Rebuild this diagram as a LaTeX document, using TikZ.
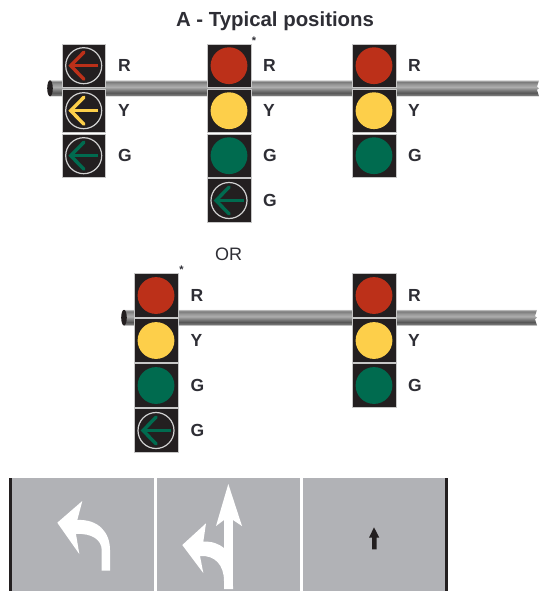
\documentclass[tikz,border=0pt]{standalone}
\usepackage{fontspec}
\setmainfont{Liberation Sans}
\definecolor{sred}{HTML}{BC3019}
\definecolor{syel}{HTML}{FDCF4A}
\definecolor{sgrn}{HTML}{006B4F}
\definecolor{sbox}{HTML}{231F20}
\definecolor{road}{HTML}{B1B2B6}
\definecolor{lab}{HTML}{2E2E35}
\pgfdeclareverticalshading{polesh}{100bp}{
  color(0bp)=(black!25); color(25bp)=(black!25); color(28bp)=(black!52);
  color(36bp)=(black!66); color(44bp)=(black!52); color(54bp)=(black!32);
  color(62bp)=(black!40); color(70bp)=(black!52); color(75bp)=(black!25); color(100bp)=(black!25)}
\tikzset{
  x=1pt,y=-1pt,
  cell/.style={fill=sbox,draw=white!78!black,line width=.5pt},
  siglabel/.style={font=\bfseries\fontsize{17.5}{19}\selectfont,text=lab,anchor=west,inner sep=0pt},
  roadarrow/.style={fill=white,draw=none},
}
% \lampcell{cx}{cy}{colour}
\newcommand{\lampcell}[3]{%
  \draw[cell] (#1-21.9,#2-21.9) rectangle (#1+21.9,#2+21.9);
  \fill[#3] (#1,#2) circle (18.4);
}
% \arrowcell{cx}{cy}{colour}
\newcommand{\arrowcell}[3]{%
  \draw[cell] (#1-21.9,#2-21.9) rectangle (#1+21.9,#2+21.9);
  \draw[white!82!black,line width=1.2pt] (#1,#2) circle (18);
  \draw[#3,line width=3pt] (#1+14.7,#2) -- (#1-11,#2);
  \draw[#3,line width=3.4pt,line cap=round,line join=miter] (#1+.2,#2-13.5) -- (#1-13,#2) -- (#1+.2,#2+13.5);
}
\newcommand{\pole}[5]{% x0, x1, ytop, ybottom, nick depth
  \shade[shading=polesh] (#1,#3) -- (#2,#3) -- (#2-#5,#3/2+#4/2-1.5) -- (#2,#3/2+#4/2) -- (#2-#5,#3/2+#4/2+1.5) -- (#2,#4) -- (#1,#4) -- cycle;
  \fill[sbox] (#1,#3/2+#4/2) ellipse (2.8 and #4/2-#3/2);
}
\begin{document}
\begin{tikzpicture}
\useasboundingbox (0,0) rectangle (539,591);
\fill[white] (0,0) rectangle (539,591);
% poles
\pole{50}{539}{80.3}{96.3}{2}
\pole{124}{537}{309.8}{325.5}{2}
% upper left head
\arrowcell{83.7}{65.7}{sred}
\arrowcell{83.7}{110.7}{syel}
\arrowcell{83.7}{155.7}{sgrn}
% upper middle head
\lampcell{229}{65.7}{sred}
\lampcell{229}{110.7}{syel}
\lampcell{229}{155.7}{sgrn}
\arrowcell{229}{200.5}{sgrn}
% upper right head
\lampcell{374}{65.7}{sred}
\lampcell{374}{110.7}{syel}
\lampcell{374}{155.7}{sgrn}
% lower left head
\lampcell{156}{295.5}{sred}
\lampcell{156}{340.5}{syel}
\lampcell{156}{385.5}{sgrn}
\arrowcell{156}{430.5}{sgrn}
% lower right head
\lampcell{374}{295.5}{sred}
\lampcell{374}{340.5}{syel}
\lampcell{374}{385.5}{sgrn}
% title and labels
\node[font=\bfseries\fontsize{20.4}{22}\selectfont,text=lab,inner sep=0pt] (title) at (275,21) {A - Typical positions};
\node[font=\bfseries\fontsize{11}{12}\selectfont,text=lab,inner sep=0pt] (star1) at (254,41) {*};
\node[font=\bfseries\fontsize{11}{12}\selectfont,text=lab,inner sep=0pt] (star2) at (181.5,270) {*};
\node[font=\fontsize{18}{20}\selectfont,text=lab,inner sep=0pt] (or) at (228.5,254) {OR};
\foreach \n/\x/\y/\t in {a/118/65/R,b/118/110/Y,c/118/155/G,d/263/65/R,e/263/110/Y,f/263/155/G,g/263/200/G,h/408/65/R,i/408/110/Y,j/408/155/G,k/190.5/295/R,l/190.5/340/Y,m/190.5/385/G,n/190.5/430/G,o/408/295/R,p/408/340/Y,q/408/385/G}
  \node[siglabel] (lab\n) at (\x,\y) {\t};
% road
\fill[road] (9,478.3) rectangle (448,591);
\fill[white] (154.4,478.3) rectangle (157.2,591);
\fill[white] (300,478.3) rectangle (302.7,591);
\fill[sbox] (9,478.3) rectangle (12,591);
\fill[sbox] (445.3,478.3) rectangle (448.3,591);
% left-turn arrow
\fill[roadarrow] (57.3,522.7) -- (82.3,501) -- (77.3,520) .. controls (98,519) and (110,532) .. (110,550) -- (110,570.7) -- (101.7,570.7) -- (101.7,550) .. controls (101.7,540) and (92,533) .. (76,534) -- (79.3,554) -- cycle;
% left-turn and through arrow
\fill[roadarrow] (228.3,484) -- (242,526) -- (232.9,520) -- (233,589) -- (224,589) -- (224,581) .. controls (224,565) and (215,555) .. (200,556) -- (203.3,573) -- (182.3,545) -- (206,523.3) -- (203.3,541.7) .. controls (212,541) and (219,544) .. (224,548) -- (224,520) -- (216,526) -- cycle;
% small through arrow
\fill[sbox] (374,527.3) -- (379.3,537.7) -- (376.7,537.7) -- (376.7,549.3) -- (372,549.3) -- (372,537.7) -- (369,537.7) -- cycle;
\end{tikzpicture}
\end{document}
